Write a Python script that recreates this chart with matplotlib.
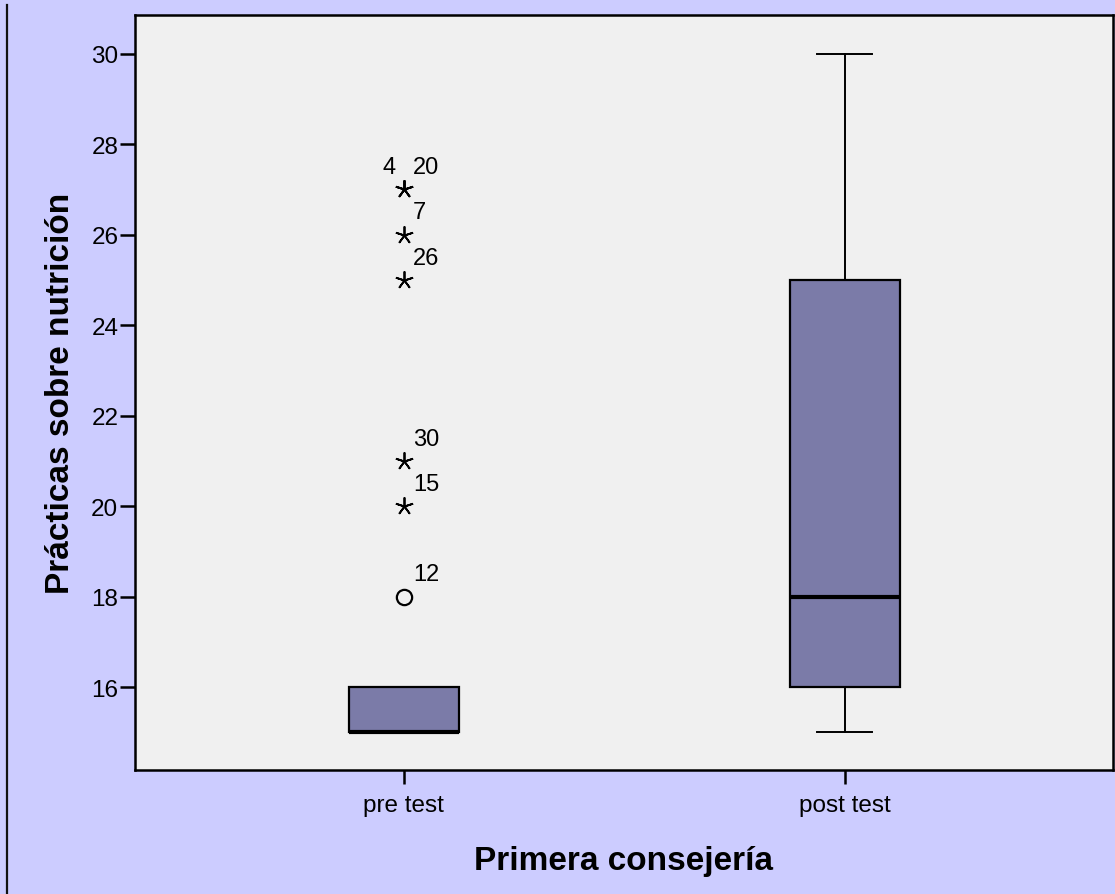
import numpy as np
import matplotlib.pyplot as plt
from matplotlib.lines import Line2D

plt.rcParams['font.family'] = ['Liberation Sans', 'DejaVu Sans']

# box summaries per group
groups = ['pre test', 'post test']
q1 = [15, 16]
medians = [15, 18]
q3 = [16, 25]
whis_lo = [15, 15]
whis_hi = [16, 30]

# pre test outliers (circle) and extremes (star), with case numbers
out_vals = [18]
out_ids = ['12']
ext_vals = [20, 21, 25, 26, 27, 27]
ext_ids = ['15', '30', '26', '7', '4', '20']

fig = plt.figure(figsize=(11.15, 8.95), dpi=100, facecolor='#CCCCFF')
# dark frame line down the left side
fig.lines.append(Line2D([0.0065, 0.0065], [0, 0.993], transform=fig.transFigure,
                        color='#111111', linewidth=1.6))
ax = fig.add_axes([0.1211, 0.1385, 0.8769, 0.8435])
ax.set_facecolor('#F0F0F0')

stats = []
for i, g in enumerate(groups):
    stats.append(dict(label=g, q1=q1[i], med=medians[i], q3=q3[i],
                      whislo=whis_lo[i], whishi=whis_hi[i], fliers=[]))

ax.bxp(stats, positions=[1, 2], widths=0.25, patch_artist=True, showfliers=False,
       boxprops=dict(facecolor='#7B7BA8', edgecolor='black', linewidth=1.6),
       medianprops=dict(color='black', linewidth=3),
       whiskerprops=dict(color='black', linewidth=1.4),
       capprops=dict(color='black', linewidth=1.4))

x0 = 1
ax.plot([x0] * len(out_vals), out_vals, linestyle='none', marker='o', markersize=11,
        markerfacecolor='none', markeredgecolor='black', markeredgewidth=1.6)
ax.plot([x0] * len(ext_vals), ext_vals, linestyle='none', marker=(5, 2, 0), markersize=13,
        color='black', markeredgewidth=1.3)

seen = {}
for v, lab in zip(out_vals + ext_vals, out_ids + ext_ids):
    n = seen.get(v, 0)
    seen[v] = n + 1
    if n == 0 and ext_vals.count(v) > 1:
        # first of a tied pair goes to the left
        ax.annotate(lab, (x0, v), xytext=(-6, 16), textcoords='offset points',
                    ha='right', va='center', fontsize=17)
    else:
        ax.annotate(lab, (x0, v), xytext=(6.5, 16), textcoords='offset points',
                    ha='left', va='center', fontsize=17)

ax.set_xlim(0.39, 2.608)
ax.set_ylim(14.167, 30.85)
ax.set_yticks([16, 18, 20, 22, 24, 26, 28, 30])
ax.set_xticks([1, 2])
ax.set_xticklabels(groups)
ax.tick_params(axis='y', length=11, width=1.8, labelsize=17.5, pad=1)
ax.tick_params(axis='x', length=10, width=1.8, labelsize=17.5, pad=7)
for s in ax.spines.values():
    s.set_linewidth(1.8)

ax.set_xlabel('Primera consejería', fontsize=24, fontweight='bold', labelpad=21)
ax.set_ylabel('Prácticas sobre nutrición', fontsize=24, fontweight='bold', labelpad=11)

fig.savefig('out.png', dpi=100, facecolor=fig.get_facecolor())
